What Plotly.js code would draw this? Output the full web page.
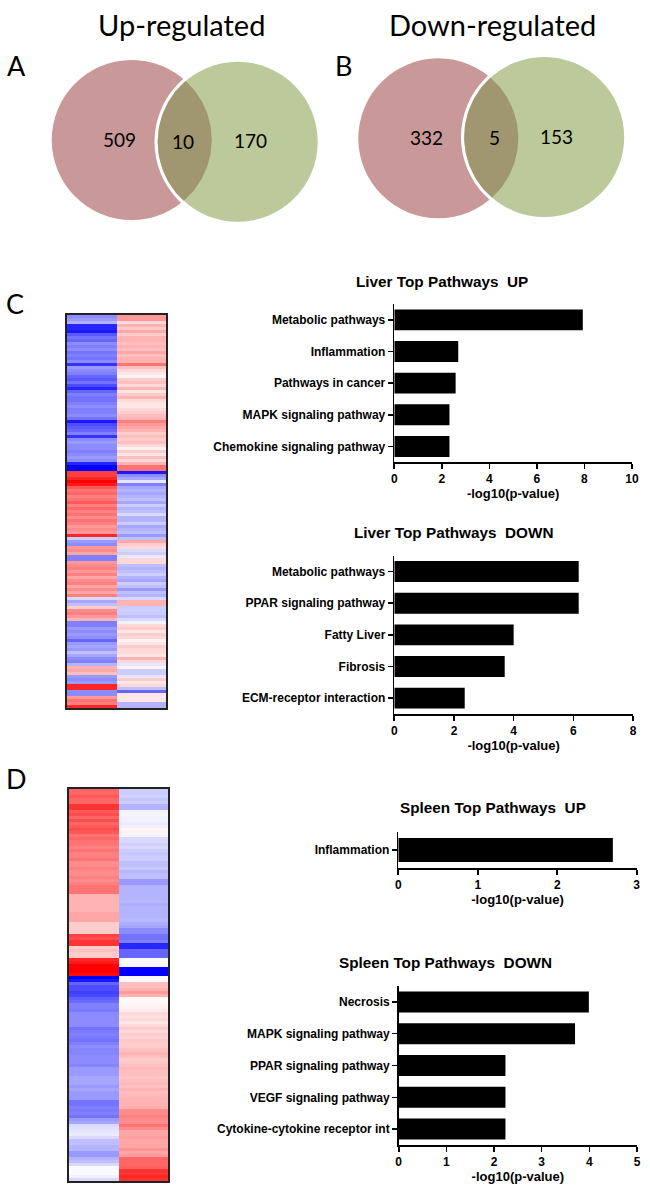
<!DOCTYPE html>
<html><head><meta charset="utf-8">
<script src="https://cdn.plot.ly/plotly-3.0.1.min.js"></script>
<style>html,body{margin:0;padding:0;background:#fff}</style></head>
<body><div id="chart" style="width:650px;height:1190px"></div>
<script>
const W=650,H=1190;
// Venn counts
const vennUp=["509","10","170"];
const vennDown=["332","5","153"];
// Pathway bars
const liverUpCats=["Metabolic pathways","Inflammation","Pathways in cancer","MAPK signaling pathway","Chemokine signaling pathway"];
const liverUpVals=[7.93,2.69,2.58,2.32,2.32];
const liverDownCats=["Metabolic pathways","PPAR signaling pathway","Fatty Liver","Fibrosis","ECM-receptor interaction"];
const liverDownVals=[6.18,6.18,4.0,3.7,2.36];
const spleenUpCats=["Inflammation"];
const spleenUpVals=[2.7];
const spleenDownCats=["Necrosis","MAPK signaling pathway","PPAR signaling pathway","VEGF signaling pathway","Cytokine-cytokine receptor int"];
const spleenDownVals=[3.99,3.7,2.24,2.24,2.24];
// Heatmap rows, top to bottom
const liverCol1=[-.45,-.4,-.3,-.85,-.85,-.9,-.65,-.55,-.6,-.45,-.5,-.45,-.55,-.5,-.55,-.45,-.8,-.4,-.45,-.5,-.6,-.65,-.55,-.7,-.85,-.6,-.5,-.55,-.55,-.5,-.45,-.5,-.5,-.45,-.55,-.9,-.7,-.65,-.6,-.5,-.8,-.45,-.4,-.45,-.45,-.5,-.45,-.4,-.45,-.85,-1,-1,.75,.75,.85,1,.9,.65,.55,.6,.5,.55,.65,.5,.6,
 .5,.55,.45,.55,.5,.4,.45,.4,.85,-.2,-.4,-.45,.4,.45,.35,-.5,-.5,.4,.45,.5,.4,.5,.35,.45,.5,.35,.45,.35,.5,-.15,-.35,-.25,.2,.45,.5,.4,.3,-.5,-.5,-.4,-.45,-.4,-.45,-.6,-.4,-.35,-.4,-.25,-.35,-.45,-.5,-.3,.3,.35,.25,-.4,-.45,-.4,.85,.85,-.45,-.45,.4,.55,.5,.85];
const liverCol2=[.4,.4,.15,.3,.2,.35,.2,.3,.3,.25,.3,.25,.35,.25,.3,.3,.55,.25,.15,.1,.05,.2,.25,.15,.3,.1,.2,.3,.15,.1,.1,.15,.2,.25,.3,.5,.4,.35,.3,.2,.25,.2,.25,.15,.05,.2,.1,.25,.15,.3,.55,.55,-.9,-.45,-.35,-.1,-.5,-.35,-.3,-.35,-.3,-.25,-.35,-.2,-.3,
 -.25,-.15,-.3,-.3,-.2,-.35,-.3,-.25,-.4,-.25,.35,.2,.15,-.15,-.2,-.1,.15,.15,-.25,-.3,-.25,-.2,-.3,-.35,-.2,-.25,-.4,-.25,-.3,-.15,.3,.3,-.2,-.2,-.2,-.25,-.15,-.05,.15,.2,.1,.2,.15,.05,.1,.2,.15,.15,.1,.3,.15,-.1,.05,-.2,-.2,-.1,.2,.1,.15,-.25,-.6,.1,.1,.1,-.3,-.3,-.3];
const spleenCol1=[.6,.6,.65,.6,.6,.8,.8,.65,.7,.6,.7,.6,.65,.7,.65,.55,.6,.55,.55,.5,.55,.5,.5,.55,.45,.45,.5,.45,.45,.5,.45,.5,.55,.55,.55,.3,.3,.3,.3,.3,.3,.35,.35,.35,.2,.2,.2,.2,.75,.7,.8,.8,.2,.25,.2,.2,.85,.9,1,1,1,.95,-1,-.9,-.6,
 -.7,-.7,-.75,-.72,-.62,-.58,-.5,-.5,-.52,-.45,-.45,-.45,-.45,-.45,-.55,-.52,-.5,-.52,-.55,-.5,-.45,-.48,-.48,-.45,-.45,-.45,-.48,-.4,-.4,-.4,-.35,-.35,-.35,-.4,-.35,-.4,-.4,-.4,-.55,-.55,-.5,-.52,-.5,-.55,-.4,-.35,-.15,-.12,-.1,-.08,-.15,-.25,-.25,-.3,-.3,-.4,-.4,-.3,-.25,-.15,-.02,-.02,-.02,-.05,-.15,-.15,-.1];
const spleenCol2=[-.2,-.2,-.18,-.22,-.2,-.3,-.3,-.05,-.04,-.06,-.05,-.08,-.06,.03,.05,-.04,-.15,-.15,-.18,-.15,-.2,-.22,-.2,-.2,-.25,-.25,-.22,-.28,-.25,-.25,-.4,-.4,-.3,-.3,-.3,-.3,-.3,-.28,-.32,-.3,-.3,-.3,-.3,-.28,-.32,-.35,-.45,-.45,-.55,-.55,-.5,-.85,-.85,-.6,-.6,-.6,-.03,-.02,-.03,-1,-1,-1,-.02,-.02,.25,
 .25,.3,.4,.3,.02,.02,.03,.05,.08,.15,.12,.15,.1,.15,.2,.15,.2,.18,.22,.2,.2,.25,.3,.25,.2,.22,.25,.28,.25,.25,.22,.25,.28,.25,.3,.25,.28,.3,.3,.3,.32,.45,.45,.5,.45,.45,.55,.45,.35,.35,.38,.35,.35,.35,.42,.35,.4,.6,.6,.6,.62,.8,.8,.85,.8];
const colNames=["1","2"];
// Drawing geometry in page pixels
const circles=[
 {x:131.7,y:140,r:80,o:237.7,oy:141.8},
 {x:438.3,y:138.3,r:80,o:544.2,oy:137}
];
const RED="#C99898",GREEN="#BBC99B",LENS="#A09670";
const FONT="Liberation Sans, Arial, sans-serif";
const LAT="Lato, Open Sans, sans-serif";
const AX={lw:1.6,tickfont:{family:FONT,size:12,color:"#000",weight:700}};

const dx=(a,b)=>[a/W,b/W], dy=(t,b)=>[1-b/H,1-t/H];
const traces=[],layout={width:W,height:H,margin:{l:0,r:0,t:0,b:0},showlegend:false,paper_bgcolor:"#fff",plot_bgcolor:"rgba(0,0,0,0)",shapes:[],annotations:[],bargap:.34};

function addBar(n,cats,vals,box,range,dtick,stand,gap){
 traces.push({type:"bar",orientation:"h",x:vals,y:cats,xaxis:"x"+n,yaxis:"y"+n,marker:{color:"#000",line:{width:0}},width:gap});
 layout["xaxis"+n]={domain:dx(box[0],box[1]),range:range,dtick:dtick,anchor:"y"+n,showgrid:false,zeroline:false,showline:true,linecolor:"#000",linewidth:AX.lw,ticks:"outside",ticklen:5,tickwidth:AX.lw,tickcolor:"#000",tickfont:AX.tickfont,title:{text:"-log10(p-value)",font:{family:FONT,size:13,color:"#000",weight:700},standoff:stand}};
 layout["yaxis"+n]={domain:dy(box[2],box[3]),type:"category",autorange:false,range:[cats.length-.5,-.5],anchor:"x"+n,showgrid:false,zeroline:false,showline:true,linecolor:"#000",linewidth:AX.lw,ticks:"outside",ticklen:5,tickwidth:AX.lw,tickcolor:"#000",tickfont:AX.tickfont};
}
addBar(2,liverUpCats,liverUpVals,[394.3,632,304,462.3],[0,10],2,2.5,.66);
addBar(3,liverDownCats,liverDownVals,[394.3,633,555.7,714],[0,8],2,2.5,.66);
addBar(4,spleenUpCats,spleenUpVals,[398.3,636.7,831.7,868.3],[0,3],1,2.5,.66);
addBar(5,spleenDownCats,spleenDownVals,[398.7,637,986,1145],[0,5],1,2.5,.66);

function addHeat(n,c1,c2,box){
 const rows=Math.min(c1.length,c2.length),z=[];
 for(let i=0;i<rows;i++)z.push([c1[i],c2[i]]);
 traces.push({type:"heatmap",z:z,x:colNames,xaxis:"x"+n,yaxis:"y"+n,zmin:-1,zmax:1,showscale:false,hoverinfo:"skip",
  colorscale:[[0,"#0000ff"],[.5,"#ffffff"],[1,"#ff0000"]]});
 layout["xaxis"+n]={domain:dx(box[0],box[1]),type:"category",anchor:"y"+n,showticklabels:false,ticks:"",showgrid:false,zeroline:false,showline:true,mirror:true,linecolor:"#222",linewidth:2};
 layout["yaxis"+n]={domain:dy(box[2],box[3]),range:[rows-.5,-.5],anchor:"x"+n,showticklabels:false,ticks:"",showgrid:false,zeroline:false,showline:true,mirror:true,linecolor:"#222",linewidth:2};
}
addHeat(6,liverCol1,liverCol2,[67,166,315,708]);
addHeat(7,spleenCol1,spleenCol2,[68.5,168,788.5,1181]);

// page-pixel axes for Venn diagrams and page text
layout.xaxis={domain:[0,1],range:[0,W],visible:false,fixedrange:true};
layout.yaxis={domain:[0,1],range:[H,0],visible:false,fixedrange:true};
function arcPts(cx,cy,r,a0,a1){const X=[],Y=[];for(let k=0;k<=60;k++){const a=a0+(a1-a0)*k/60;X.push(cx+r*Math.cos(a));Y.push(cy+r*Math.sin(a));}return [X,Y];}
circles.forEach(c=>{
 const gap=3.2;
 layout.shapes.push({type:"circle",xref:"x",yref:"y",x0:c.x-c.r,x1:c.x+c.r,y0:c.y-c.r,y1:c.y+c.r,fillcolor:RED,line:{width:0},layer:"below"});
 layout.shapes.push({type:"circle",xref:"x",yref:"y",x0:c.o-c.r-gap,x1:c.o+c.r+gap,y0:c.oy-c.r-gap,y1:c.oy+c.r+gap,fillcolor:"#fff",line:{width:0},layer:"below"});
 layout.shapes.push({type:"circle",xref:"x",yref:"y",x0:c.o-c.r,x1:c.o+c.r,y0:c.oy-c.r,y1:c.oy+c.r,fillcolor:GREEN,line:{width:0},layer:"below"});
 const ddx=c.o-c.x,ddy=c.oy-c.y,d=Math.hypot(ddx,ddy),base=Math.atan2(ddy,ddx),half=Math.acos(d/2/c.r);
 const a=arcPts(c.x,c.y,c.r,base-half,base+half);
 const b=arcPts(c.o,c.oy,c.r,base+Math.PI-half,base+Math.PI+half);
 traces.push({type:"scatter",mode:"lines",x:a[0].concat(b[0]),y:a[1].concat(b[1]),fill:"toself",fillcolor:LENS,line:{width:0},hoverinfo:"skip",xaxis:"x",yaxis:"y"});
});
function txt(x,y,t,size,fam,bold){layout.annotations.push({xref:"paper",yref:"paper",x:x/W,y:1-y/H,text:t,showarrow:false,xanchor:"center",yanchor:"middle",font:{family:fam,size:size,color:"#000",weight:bold?700:400}});}
txt(181,24,"Up-regulated",29,LAT);
txt(493,24,"Down-regulated",29,LAT);
txt(16,65,"A",27,LAT);txt(343,65,"B",27,LAT);txt(15,303,"C",27,LAT);txt(16,778,"D",27,LAT);
txt(119.3,139.3,vennUp[0],19,LAT);txt(182.7,141.7,vennUp[1],19,LAT);txt(250,140.7,vennUp[2],19,LAT);
txt(426.3,137.7,vennDown[0],19,LAT);txt(494.3,137,vennDown[1],19,LAT);txt(556.7,136.7,vennDown[2],19,LAT);
txt(441.7,281,"Liver Top Pathways\u00a0\u00a0UP",15.3,FONT,true);
txt(453,532,"Liver Top Pathways\u00a0\u00a0DOWN",15.3,FONT,true);
txt(493,807.7,"Spleen Top Pathways\u00a0\u00a0UP",15.3,FONT,true);
txt(445,962.7,"Spleen Top Pathways\u00a0\u00a0DOWN",15.3,FONT,true);
Plotly.newPlot("chart",traces,layout,{staticPlot:true,displayModeBar:false});
</script></body></html>
